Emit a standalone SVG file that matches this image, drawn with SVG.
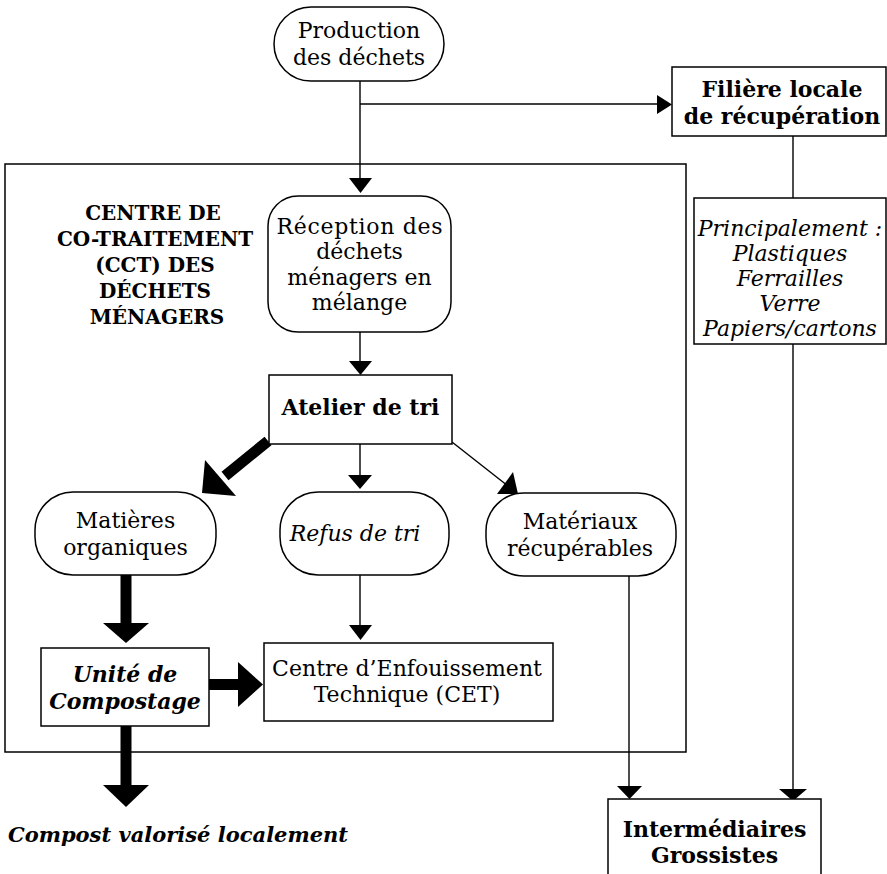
<svg xmlns="http://www.w3.org/2000/svg" width="887" height="874" viewBox="0 0 887 874">
<style>
.box{fill:#fff;stroke:#000;stroke-width:1.5}
.frame{fill:none;stroke:#000;stroke-width:1.5}
.t{font-family:"DejaVu Serif","Liberation Serif",serif;font-size:22px;fill:#000;text-anchor:middle}
.h{font-size:20px}
.c{font-size:21px}
.b{font-weight:bold}
.i{font-style:italic}
.ln{stroke:#000;stroke-width:1.4;fill:none}
.thick{stroke:#000;stroke-width:11;fill:none}
.ah{fill:#000}
</style>
<rect width="887" height="874" fill="#fff"/>
<g id="cct-frame">
<rect class="frame" x="5" y="164" width="681" height="588"/>
<text class="t h b" x="153" y="220">CENTRE DE</text>
<text class="t h b" x="155" y="246">CO-TRAITEMENT</text>
<text class="t h b" x="155" y="272">(CCT) DES</text>
<text class="t h b" x="155" y="298">DÉCHETS</text>
<text class="t h b" x="157" y="324">MÉNAGERS</text>
</g>
<g id="connectors">
<line class="ln" x1="360" y1="81" x2="360" y2="179"/>
<polygon class="ah" points="349,178 372,178 360.5,193"/>
<line class="ln" x1="360" y1="104" x2="658" y2="104"/>
<polygon class="ah" points="657,95 657,114 672,104.5"/>
<line class="ln" x1="360" y1="332" x2="360" y2="362"/>
<polygon class="ah" points="349,361 372,361 360.5,375"/>
<line class="ln" x1="360" y1="444" x2="360" y2="476"/>
<polygon class="ah" points="348,475 372,475 360,489"/>
<line class="ln" x1="452" y1="442" x2="508" y2="486"/>
<polygon class="ah" points="497,494 513,472 518,494"/>
<line class="thick" x1="268" y1="441" x2="225" y2="476"/>
<polygon class="ah" points="202,493 205,460 236,496"/>
<line class="thick" x1="126" y1="575" x2="126" y2="624"/>
<polygon class="ah" points="103,623 149,623 126,643"/>
<line class="ln" x1="360" y1="575" x2="360" y2="626"/>
<polygon class="ah" points="349,625 372,625 360.5,640"/>
<line class="thick" x1="209" y1="684.5" x2="239" y2="684.5"/>
<polygon class="ah" points="238,662 238,707 263,684.5"/>
<line class="thick" x1="126" y1="726" x2="126" y2="786"/>
<polygon class="ah" points="103,785 149,785 126,807"/>
<line class="ln" x1="629" y1="576" x2="629" y2="787"/>
<polygon class="ah" points="617,786 642,786 629.5,799"/>
<line class="ln" x1="793" y1="136" x2="793" y2="198"/>
<line class="ln" x1="793" y1="344" x2="793" y2="790"/>
<polygon class="ah" points="779,789 807,789 793,801"/>
</g>
<g id="production">
<rect class="box" x="274" y="7" width="170" height="74" rx="37"/>
<text class="t" x="359" y="38">Production</text>
<text class="t" x="359" y="65">des déchets</text>
</g>
<g id="filiere">
<rect class="box" x="672" y="67" width="214" height="69"/>
<text class="t b" x="782" y="97">Filière locale</text>
<text class="t b" x="782" y="124">de récupération</text>
</g>
<g id="principalement">
<rect class="box" x="694" y="198" width="192" height="146"/>
<text class="t i" x="790" y="236">Principalement :</text>
<text class="t i" x="790" y="261">Plastiques</text>
<text class="t i" x="790" y="286">Ferrailles</text>
<text class="t i" x="790" y="311">Verre</text>
<text class="t i" x="790" y="336">Papiers/cartons</text>
</g>
<g id="reception">
<rect class="box" x="268" y="196" width="183" height="136" rx="30"/>
<text class="t" x="359.5" y="234" textLength="166" lengthAdjust="spacing">Réception des</text>
<text class="t" x="359.5" y="259">déchets</text>
<text class="t" x="359.5" y="285">ménagers en</text>
<text class="t" x="359.5" y="310">mélange</text>
</g>
<g id="atelier">
<rect class="box" x="269" y="375" width="183" height="69"/>
<text class="t b" x="360.5" y="415">Atelier de tri</text>
</g>
<g id="matieres">
<rect class="box" x="35" y="492" width="181" height="83" rx="38"/>
<text class="t" x="125.5" y="528">Matières</text>
<text class="t" x="125.5" y="555">organiques</text>
</g>
<g id="refus">
<rect class="box" x="280" y="492" width="169" height="83" rx="38"/>
<text class="t i" x="355" y="541">Refus de tri</text>
</g>
<g id="materiaux">
<rect class="box" x="486" y="493" width="190" height="83" rx="38"/>
<text class="t" x="580" y="529">Matériaux</text>
<text class="t" x="580" y="556">récupérables</text>
</g>
<g id="unite">
<rect class="box" x="41" y="648" width="168" height="78"/>
<text class="t b i" x="125" y="682">Unité de</text>
<text class="t b i" x="125" y="709">Compostage</text>
</g>
<g id="cet">
<rect class="box" x="264" y="643" width="289" height="78"/>
<text class="t" x="407" y="676">Centre d’Enfouissement</text>
<text class="t" x="407" y="702">Technique (CET)</text>
</g>
<g id="compost">
<text class="t b i c" x="178" y="842">Compost valorisé localement</text>
</g>
<g id="intermediaires">
<rect class="box" x="608" y="799" width="213" height="90"/>
<text class="t b" x="714.5" y="837">Intermédiaires</text>
<text class="t b" x="714.5" y="863">Grossistes</text>
</g>
</svg>
